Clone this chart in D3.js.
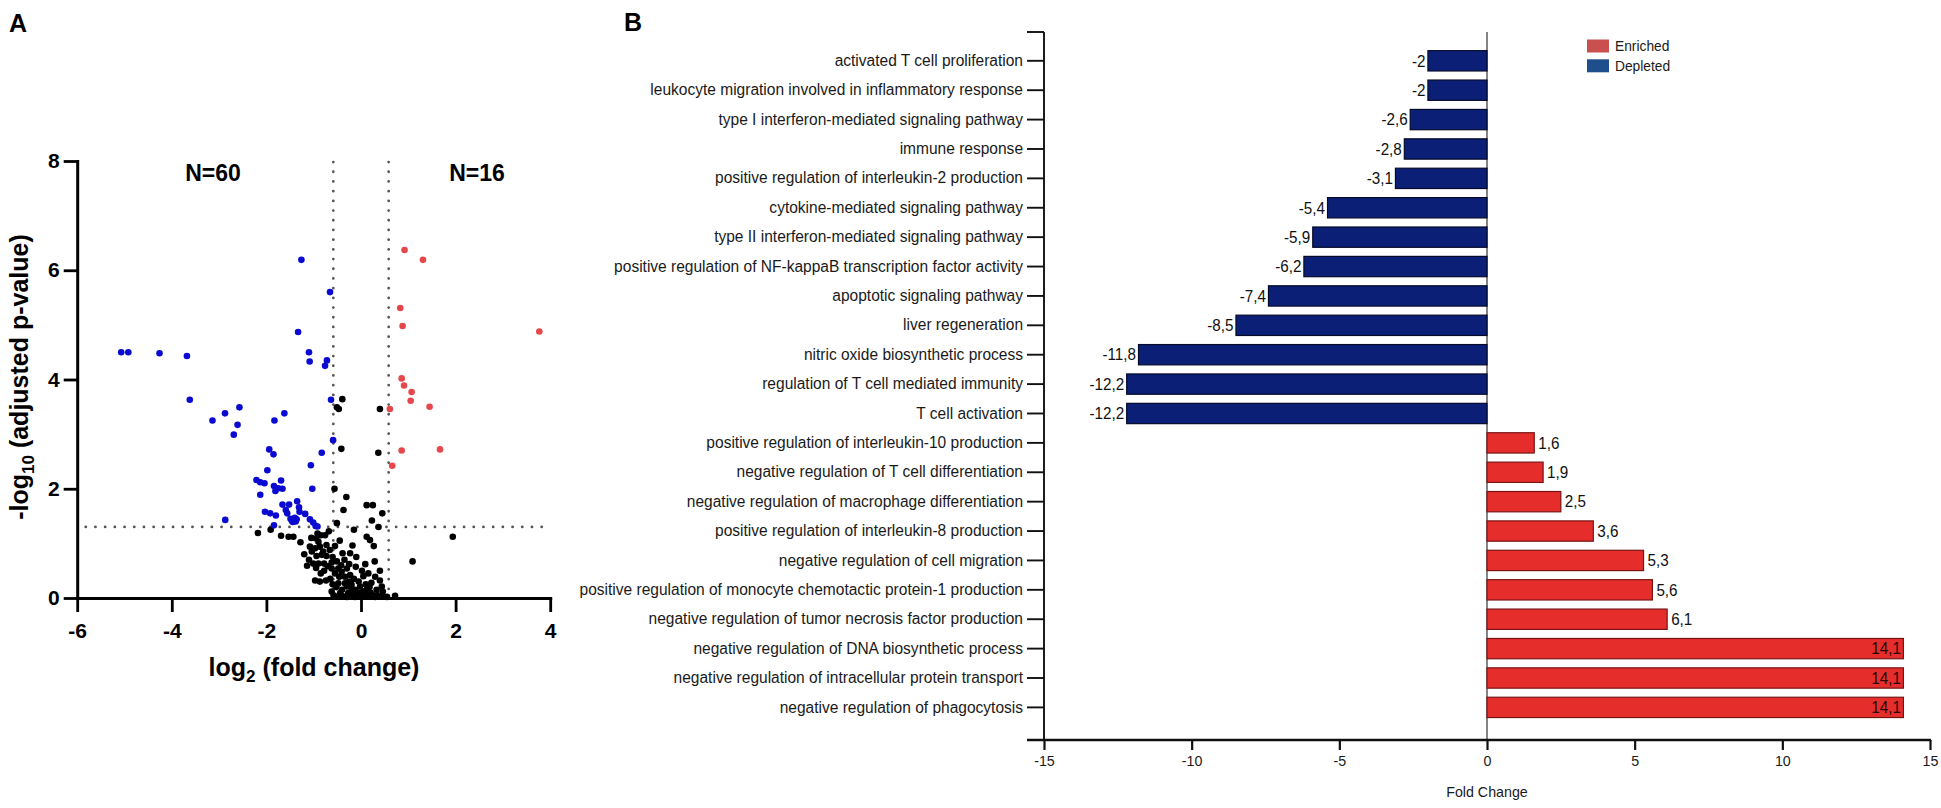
<!DOCTYPE html>
<html><head><meta charset="utf-8">
<script src="https://cdn.jsdelivr.net/npm/d3@7"></script>
<style>body{margin:0;background:#fff}</style>
</head><body>
<svg id="c" width="1941" height="808"></svg>
<script>
// ---------- Panel A data: volcano plot (log2 FC, -log10 adj p) ----------
const volcanoBlue = [
[-1.26,6.19],[-0.655,5.60],[-1.33,4.87],[-5.07,4.50],[-4.92,4.50],[-4.26,4.48],[-3.68,4.43],
[-1.10,4.50],[-1.085,4.33],[-0.72,4.35],[-0.76,4.25],[-3.62,3.63],[-0.634,3.63],[-2.57,3.49],
[-2.875,3.38],[-1.62,3.38],[-3.14,3.25],[-1.83,3.25],[-2.61,3.17],[-2.69,2.99],[-0.59,2.89],
[-1.94,2.72],[-1.85,2.63],[-0.83,2.66],[-1.98,2.34],[-1.06,2.43],[-2.21,2.16],[-2.13,2.12],
[-2.04,2.10],[-1.69,2.15],[-1.84,2.05],[-1.81,1.96],[-1.75,2.01],[-1.66,2.00],[-1.03,2.00],
[-2.13,1.89],[-2.87,1.43],[-2.03,1.58],[-1.92,1.55],[-1.80,1.51],[-1.84,1.33],[-1.66,1.71],
[-1.52,1.71],[-1.35,1.77],[-1.59,1.61],[-1.56,1.55],[-1.31,1.66],[-1.30,1.58],[-1.49,1.45],
[-1.42,1.43],[-1.36,1.44],[-1.44,1.39],[-1.18,1.54],[-1.08,1.44],[-1.01,1.38],[-0.96,1.32],
[-0.92,1.31],[-1.40,1.47],[-1.46,1.41],[-1.38,1.40]
];
const volcanoRed = [
[0.92,6.37],[1.31,6.19],[0.83,5.31],[0.88,4.98],[3.77,4.88],[0.86,4.02],[0.91,3.89],
[1.07,3.77],[1.05,3.61],[1.45,3.50],[0.61,3.46],[0.86,2.70],[1.67,2.72],[0.66,2.42]
];
const volcanoBlack = [
[-0.395,3.64],[-0.51,3.49],[-0.47,3.46],[0.40,3.46],[-0.416,2.73],[0.366,2.66],
[-0.56,2.00],[-0.31,1.85],[-0.37,1.61],[0.12,1.70],[0.25,1.70],[0.45,1.55],[0.23,1.42],
[-0.51,1.37],[0.37,1.30],[-0.15,1.25],[-2.18,1.19],[-1.91,1.25],[-1.69,1.14],[-1.53,1.12],
[-1.43,1.12],[-1.28,1.02],[1.94,1.12],[1.09,0.67],[0.12,1.12],[0.19,1.06],[0.27,0.95],
[-0.18,0.96],[-0.39,0.82],[-0.23,0.82],[-0.11,0.57],[0.09,0.62],[0.29,0.67],[0.40,0.50],
[0.155,0.45],[0.30,0.39],[0.40,0.32],[0.44,0.21],[0.33,0.15],[0.46,0.12],[0.72,0.04],
[-0.92,1.18],[-0.76,1.15],[-0.95,1.09],[-0.90,1.03],[-1.08,0.94],[-0.97,0.91],[-0.87,0.94],
[-0.73,0.97],[-0.80,0.85],[-0.66,0.88],[-1.04,0.85],[-0.94,0.77],[-0.83,0.79],[-0.73,0.77],
[-1.14,0.59],[-1.01,0.63],[-0.90,0.63],[-0.78,0.63],[-0.62,0.65],[-0.51,0.67],[-0.62,0.54],
[-0.48,0.54],[-0.55,0.45],[-0.41,0.48],[-0.30,0.54],[-0.46,0.39],[-0.34,0.39],[-0.23,0.42],
[-0.48,0.27],[-0.34,0.27],[-0.97,0.32],[-0.87,0.30],[-0.74,0.32],[-0.30,0.21],[-0.20,0.24],
[-0.13,0.15],[-0.02,0.21],[-0.09,0.09],[0.05,0.12],[0.12,0.15],[-0.27,0.09],[-0.58,0.05],
[-0.44,0.09],[0.15,0.05],[0.26,0.05],[0.01,0.02],[-0.13,0.02],[-0.30,0.02],[-0.20,0.05],
[0.08,0.03],[0.20,0.10],[0.35,0.05],[-0.05,0.30],[0.05,0.40],[-0.40,0.15],[-0.65,0.35],
[-0.70,0.58],[-0.60,0.75],[-1.20,0.80],[-0.55,0.95],[-0.45,1.05],[-0.85,1.15],[-1.05,1.10],
[-0.68,1.22],[-0.35,0.70],[-0.10,0.75],[0.02,0.50],[-0.05,0.10],[0.10,0.25],[0.22,0.28],
[-0.15,0.35],[-0.25,0.62],[-0.52,0.20],[-0.62,0.12],[-0.38,0.03],[0.30,0.02],[0.45,0.03],
[-0.48,0.03],[0.55,0.02],[-0.08,0.04],[-0.25,0.30],[-0.60,0.25],[-0.85,0.45],[-1.10,0.70],
[-0.20,0.15],[0.00,0.08],[0.18,0.20],[-0.42,0.60],[-0.78,0.50],[-0.95,0.55]
];
const volcanoXTicks = [-6,-4,-2,0,2,4];
const volcanoYTicks = [0,2,4,6,8];
const fcThreshold = [-0.585, 0.585];
const pThreshold = 1.301;

// ---------- Panel B data: GO terms fold change ----------
const goTerms = [
"activated T cell proliferation",
"leukocyte migration involved in inflammatory response",
"type I interferon-mediated signaling pathway",
"immune response",
"positive regulation of interleukin-2 production",
"cytokine-mediated signaling pathway",
"type II interferon-mediated signaling pathway",
"positive regulation of NF-kappaB transcription factor activity",
"apoptotic signaling pathway",
"liver regeneration",
"nitric oxide biosynthetic process",
"regulation of T cell mediated immunity",
"T cell activation",
"positive regulation of interleukin-10 production",
"negative regulation of T cell differentiation",
"negative regulation of macrophage differentiation",
"positive regulation of interleukin-8 production",
"negative regulation of cell migration",
"positive regulation of monocyte chemotactic protein-1 production",
"negative regulation of tumor necrosis factor production",
"negative regulation of DNA biosynthetic process",
"negative regulation of intracellular protein transport",
"negative regulation of phagocytosis"
];
const foldChange = [-2,-2,-2.6,-2.8,-3.1,-5.4,-5.9,-6.2,-7.4,-8.5,-11.8,-12.2,-12.2,
  1.6,1.9,2.5,3.6,5.3,5.6,6.1,14.1,14.1,14.1];
const fcTicks = [-15,-10,-5,0,5,10,15];
const legendItems = ["Enriched","Depleted"];

// ---------- drawing ----------
const svg = d3.select('#c');
const F = '"Liberation Sans", Arial, Helvetica, sans-serif';
const hy = d => String(d);   // plain hyphen-minus like the original

svg.append('text').attr('x',9).attr('y',32).text('A')
  .attr('font-family',F).attr('font-weight','bold').attr('font-size',25);
svg.append('text').attr('x',624).attr('y',31).text('B')
  .attr('font-family',F).attr('font-weight','bold').attr('font-size',25);

// ===== Panel A =====
const ax = d3.scaleLinear().domain([-6,4]).range([77.2,550.2]);
const ay = d3.scaleLinear().domain([0,8]).range([598,161]);
const gA = svg.append('g');

const dotStyle = s => s.attr('stroke','#555').attr('stroke-width',2.7)
  .attr('stroke-dasharray','0.1 9.6').attr('stroke-linecap','round').attr('fill','none');
fcThreshold.forEach(t => {
  gA.append('line').attr('x1',ax(t)).attr('x2',ax(t)).attr('y1',ay(8)+1).attr('y2',ay(0)).call(dotStyle);
});
gA.append('line').attr('x1',ax(-5.82)).attr('x2',ax(4)).attr('y1',ay(pThreshold)).attr('y2',ay(pThreshold)).call(dotStyle);

const r = 3.3;
gA.append('g').selectAll('circle').data(volcanoBlack).join('circle')
  .attr('cx',d=>ax(d[0])).attr('cy',d=>ay(d[1])).attr('r',r).attr('fill','#000');
gA.append('g').selectAll('circle').data(volcanoBlue).join('circle')
  .attr('cx',d=>ax(d[0])).attr('cy',d=>ay(d[1])).attr('r',r).attr('fill','#0a0ad0');
gA.append('g').selectAll('circle').data(volcanoRed).join('circle')
  .attr('cx',d=>ax(d[0])).attr('cy',d=>ay(d[1])).attr('r',r).attr('fill','#e5474b');

const yAxisA = gA.append('g').attr('transform',`translate(${ax(-6)},0)`)
  .call(d3.axisLeft(ay).tickValues(volcanoYTicks).tickSize(13.5).tickSizeOuter(0).tickPadding(4).tickFormat(hy));
const xAxisA = gA.append('g').attr('transform',`translate(0,${ay(0)})`)
  .call(d3.axisBottom(ax).tickValues(volcanoXTicks).tickSize(14).tickSizeOuter(0).tickPadding(11).tickFormat(hy));
[yAxisA,xAxisA].forEach(g => {
  g.select('.domain').attr('stroke','#000').attr('stroke-width',3).attr('stroke-linecap','square');
  g.selectAll('.tick line').attr('stroke','#000').attr('stroke-width',2.8);
  g.selectAll('.tick text').attr('font-family',F).attr('font-weight','bold')
    .attr('font-size',21).attr('fill','#000');
});

gA.append('text').attr('x',213).attr('y',181).attr('text-anchor','middle').text('N=60')
  .attr('font-family',F).attr('font-weight','bold').attr('font-size',23);
gA.append('text').attr('x',477).attr('y',181).attr('text-anchor','middle').text('N=16')
  .attr('font-family',F).attr('font-weight','bold').attr('font-size',23);

const xt = gA.append('text').attr('x',314).attr('y',676).attr('text-anchor','middle')
  .attr('font-family',F).attr('font-weight','bold').attr('font-size',25);
xt.append('tspan').text('log');
xt.append('tspan').text('2').attr('font-size',17).attr('dy',6);
xt.append('tspan').text(' (fold change)').attr('dy',-6);

const yt = gA.append('text').attr('transform','translate(28,377) rotate(-90)').attr('text-anchor','middle')
  .attr('font-family',F).attr('font-weight','bold').attr('font-size',25);
yt.append('tspan').text('-log');
yt.append('tspan').text('10').attr('font-size',17).attr('dy',6);
yt.append('tspan').text(' (adjusted p-value)').attr('dy',-6);

// ===== Panel B =====
const gB = svg.append('g');
const bx = d3.scaleLinear().domain([-15,15]).range([1044,1930]);
const by = d3.scaleBand().domain(goTerms).range([46.1,722.1]).paddingInner(0.309).paddingOuter(0.155);
const squeeze = (sel, k) => sel.each(function(){
  const L = this.getComputedTextLength();
  d3.select(this).attr('textLength', L*k).attr('lengthAdjust','spacingAndGlyphs');
});
const axTop = 32, axBot = 740;
const fmt = v => String(v).replace('.',',');
const fsB = 16, kB = 0.97;

gB.append('line').attr('x1',bx(0)).attr('x2',bx(0)).attr('y1',axTop).attr('y2',axBot)
  .attr('stroke','#333').attr('stroke-width',1.2);

const cEnr = '#e52e2c', cDep = '#0c1f76';
gB.append('g').selectAll('rect').data(foldChange).join('rect')
  .attr('x',(d)=>bx(Math.min(0,d)))
  .attr('width',d=>Math.abs(bx(d)-bx(0)))
  .attr('y',(d,i)=>by(goTerms[i]))
  .attr('height',by.bandwidth())
  .attr('fill',d=>d>0?cEnr:cDep)
  .attr('stroke',d=>d>0?'#7a1414':'#050a2a').attr('stroke-width',1.2);

gB.append('g').selectAll('text').data(foldChange).join('text')
  .attr('x',d=> d<0 ? bx(d)-2.5 : (d>13 ? bx(d)-2.5 : bx(d)+4))
  .attr('y',(d,i)=>by(goTerms[i])+by.bandwidth()/2)
  .attr('dy','0.36em')
  .attr('text-anchor',d=> d<0 || d>13 ? 'end' : 'start')
  .attr('font-family',F).attr('font-size',fsB)
  .attr('fill',d=> d>13 ? '#2a0505' : '#111')
  .text(fmt)
  .call(squeeze,0.95);

const yAxisB = gB.append('g').attr('transform',`translate(${bx(-15)},0)`)
  .call(d3.axisLeft(by).tickSize(17).tickSizeOuter(0).tickPadding(4));
yAxisB.select('.domain').remove();
yAxisB.selectAll('.tick line').attr('stroke','#111').attr('stroke-width',1.9);
yAxisB.selectAll('.tick text').attr('font-family',F).attr('font-size',fsB).attr('fill','#1a1a1a')
  .call(squeeze,kB);
gB.append('line').attr('x1',bx(-15)).attr('x2',bx(-15)).attr('y1',axTop).attr('y2',axBot)
  .attr('stroke','#111').attr('stroke-width',1.9);
gB.append('line').attr('x1',bx(-15)-17).attr('x2',bx(-15)).attr('y1',axTop).attr('y2',axTop)
  .attr('stroke','#111').attr('stroke-width',1.9);

const xAxisB = gB.append('g').attr('transform',`translate(0,${axBot})`)
  .call(d3.axisBottom(bx).tickValues(fcTicks).tickSize(10).tickSizeOuter(0).tickPadding(5).tickFormat(hy));
xAxisB.select('.domain').remove();
xAxisB.selectAll('.tick line').attr('stroke','#111').attr('stroke-width',2.2);
xAxisB.selectAll('.tick text').attr('font-family',F).attr('font-size',15).attr('fill','#1a1a1a')
  .call(squeeze,0.95);
gB.append('line').attr('x1',bx(-15)-17).attr('x2',bx(15)+1).attr('y1',axBot).attr('y2',axBot)
  .attr('stroke','#111').attr('stroke-width',2.7);

gB.append('text').attr('x',bx(0)).attr('y',797).attr('text-anchor','middle')
  .attr('font-family',F).attr('font-size',15).attr('fill','#1a1a1a').text('Fold Change')
  .call(squeeze,0.95);

const legColors = ['#c9504f','#1f4e8c'];
const lg = gB.append('g');
legendItems.forEach((t,i) => {
  lg.append('rect').attr('x',1587).attr('y',39.5+i*19.8).attr('width',22).attr('height',13)
    .attr('fill',legColors[i]);
  lg.append('text').attr('x',1615).attr('y',51+i*19.8).text(t)
    .attr('font-family',F).attr('font-size',14.5).attr('fill','#1a1a1a').call(squeeze,0.95);
});
</script>
</body></html>
